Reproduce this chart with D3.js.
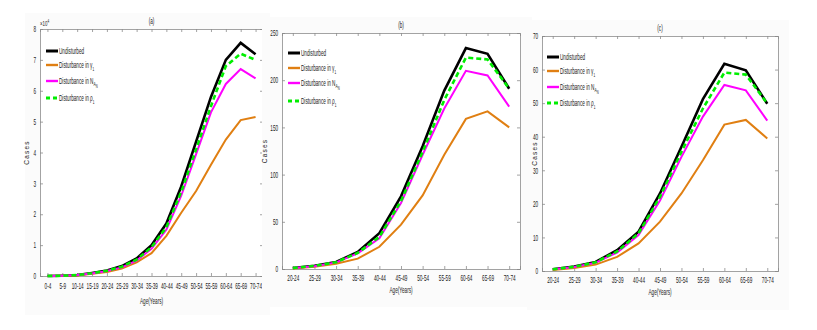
<!DOCTYPE html>
<html>
<head>
<meta charset="utf-8">
<script src="https://cdnjs.cloudflare.com/ajax/libs/d3/7.8.5/d3.min.js"></script>
<style>
  body { margin: 0; background: #fff; }
  svg text { font-family: "Liberation Sans", Arial, sans-serif; fill: #222; }
</style>
</head>
<body>
<div id="chart"></div>
<script>
// age groups
var agesA = ["0-4","5-9","10-14","15-19","20-24","25-29","30-34","35-39","40-44","45-49","50-54","55-59","60-64","65-69","70-74"];
var agesBC = ["20-24","25-29","30-34","35-39","40-44","45-49","50-54","55-59","60-64","65-69","70-74"];

// panel (a), values in units of 10^4
var aUndisturbed = [0, 0.01, 0.03, 0.1, 0.18, 0.32, 0.57, 1.0, 1.7, 2.9, 4.35, 5.8, 7.0, 7.55, 7.18];
var aGamma       = [0, 0.01, 0.02, 0.07, 0.13, 0.24, 0.44, 0.74, 1.3, 2.05, 2.75, 3.6, 4.42, 5.05, 5.15];
var aNAN         = [0, 0.01, 0.03, 0.08, 0.16, 0.28, 0.5, 0.88, 1.5, 2.6, 3.95, 5.3, 6.22, 6.7, 6.4];
var aRho         = [0, 0.01, 0.03, 0.09, 0.17, 0.3, 0.53, 0.93, 1.58, 2.72, 4.1, 5.5, 6.8, 7.2, 7.0];

// panel (b)
var bUndisturbed = [1, 3.5, 7.5, 18, 38, 77, 130, 189, 234, 228, 191];
var bGamma       = [0.5, 2.5, 5.5, 11, 23.5, 47, 78, 121, 159, 167, 150];
var bNAN         = [1, 3, 7, 16.5, 32.5, 70, 121, 170, 210, 205, 172];
var bRho         = [1, 3.2, 7.2, 17, 34, 72, 124, 179, 224, 222, 191];

// panel (c)
var cUndisturbed = [0.5, 1.3, 2.7, 6.2, 11.7, 23.1, 37, 51.2, 61.7, 59.8, 49.8];
var cGamma       = [0.3, 0.9, 1.9, 4.2, 8.2, 14.7, 23.1, 33, 43.6, 45, 39.5];
var cNAN         = [0.5, 1.2, 2.5, 5.5, 10.7, 21, 34, 46, 55.4, 53.8, 44.8];
var cRho         = [0.5, 1.25, 2.6, 5.8, 11.2, 22.1, 35.5, 48.4, 59.1, 58.5, 49.9];

var yTicksA = [0,1,2,3,4,5,6,7,8];
var yTicksB = [0,50,100,150,200,250];
var yTicksC = [0,10,20,30,40,50,60,70];

var seriesStyle = [
  {name: "Undisturbed", color: "#000000", w: 2.6, dash: null},
  {name: "gamma", color: "#e07f12", w: 2, dash: null},
  {name: "nan", color: "#ff00ff", w: 2, dash: null},
  {name: "rho", color: "#00ee00", w: 2.6, dash: "5,3"}
];

var SX = 0.55; // horizontal squeeze, the original uses a narrow font

var svg = d3.select("#chart").append("svg")
    .attr("width", 817).attr("height", 330);

// text placed with a squeezed glyph width
function narrowText(g, x, y, size) {
    return g.append("text")
        .attr("transform", "translate(" + x + "," + y + ") scale(" + SX + ",1)")
        .attr("font-size", size + "px");
}

function drawPanel(p) {
    var g = svg.append("g");

    // faint figure background
    g.append("rect").attr("x", p.bg[0]).attr("y", p.bg[1])
        .attr("width", p.bg[2]).attr("height", p.bg[3])
        .attr("fill", "#fbfbfb");

    var x = d3.scaleLinear().domain([0.5, p.cats.length + 0.5]).range([p.left, p.right]);
    var y = d3.scaleLinear().domain([0, p.ymax]).range([p.bottom, p.top]);

    g.append("rect").attr("x", p.left).attr("y", p.top)
        .attr("width", p.right - p.left).attr("height", p.bottom - p.top)
        .attr("fill", "#fff");

    var idx = d3.range(1, p.cats.length + 1);
    var xAxis = d3.axisBottom(x).tickValues(idx).tickSize(-3).tickPadding(p.xpad)
        .tickFormat(function(d) { return p.cats[d - 1]; });
    var xTop = d3.axisTop(x).tickValues(idx).tickSize(-3).tickFormat("");
    var yAxis = d3.axisLeft(y).tickValues(p.yticks).tickSize(-3).tickPadding(7);
    var yRight = d3.axisRight(y).tickValues(p.yticks).tickSize(-3).tickFormat("");

    var axes = [
        g.append("g").attr("transform", "translate(0," + p.bottom + ")").call(xAxis),
        g.append("g").attr("transform", "translate(0," + p.top + ")").call(xTop),
        g.append("g").attr("transform", "translate(" + p.left + ",0)").call(yAxis),
        g.append("g").attr("transform", "translate(" + p.right + ",0)").call(yRight)
    ];
    axes.forEach(function(a) {
        a.select(".domain").attr("stroke", "#8c8c8c").attr("stroke-width", 0.8);
        a.selectAll(".tick line").attr("stroke", "#8c8c8c").attr("stroke-width", 0.8);
        a.selectAll("text").attr("font-size", "8.5px").attr("fill", "#333")
            .attr("transform", "scale(" + SX + ",1)")
            .style("font-family", "'Liberation Sans', sans-serif");
    });

    var line = d3.line()
        .x(function(d, i) { return x(i + 1); })
        .y(function(d) { return y(d); });

    p.series.forEach(function(s, k) {
        var st = seriesStyle[k];
        g.append("path").datum(s)
            .attr("fill", "none")
            .attr("stroke", st.color)
            .attr("stroke-width", st.w)
            .attr("stroke-linejoin", "miter")
            .attr("stroke-dasharray", st.dash)
            .attr("d", line);
    });

    // title
    narrowText(g, (p.left + p.right) / 2, p.top - 5, 8.5)
        .attr("text-anchor", "middle").text(p.title);

    // axis labels
    narrowText(g, (p.left + p.right) / 2, p.xlabY, 8.5)
        .attr("text-anchor", "middle").text("Age(Years)");
    g.append("text")
        .attr("transform", "translate(" + p.ylabX + "," + ((p.top + p.bottom) / 2) + ") rotate(-90)")
        .attr("text-anchor", "middle").attr("font-size", "6.5px")
        .attr("letter-spacing", "1.2px")
        .attr("fill", "#333")
        .text("Cases");

    if (p.exponent) {
        var ex = narrowText(g, p.left, p.top - 3, 8).attr("fill", "#444");
        ex.append("tspan").text("\u00d710");
        ex.append("tspan").attr("font-size", "5.5px").attr("dy", -3).text("4");
    }

    // legend
    seriesStyle.forEach(function(st, k) {
        var yy = p.legY[k];
        g.append("line").attr("x1", p.legX).attr("x2", p.legX + 12)
            .attr("y1", yy).attr("y2", yy)
            .attr("stroke", st.color).attr("stroke-width", st.w + 0.4)
            .attr("stroke-dasharray", st.dash ? "4,3" : null);
        var t = narrowText(g, p.legX + 13, yy + 3, 8.5);
        if (k === 0) {
            t.text("Undisturbed");
        } else if (k === 1) {
            t.append("tspan").text("Disturbance in \u03b3");
            t.append("tspan").attr("font-size", "5.5px").attr("dy", 2.5).text("1");
        } else if (k === 2) {
            t.append("tspan").text("Disturbance in N");
            t.append("tspan").attr("font-size", "6px").attr("dy", 2).text("A");
            t.append("tspan").attr("font-size", "5px").attr("dy", 1.5).text("N");
        } else {
            t.append("tspan").text("Disturbance in \u03c1");
            t.append("tspan").attr("font-size", "5.5px").attr("dy", 2.5).text("1");
        }
    });
}

drawPanel({
    title: "(a)", cats: agesA, ymax: 8, yticks: yTicksA,
    series: [aUndisturbed, aGamma, aNAN, aRho],
    left: 40, right: 263, top: 29, bottom: 276,
    bg: [25, 13, 245, 302], xpad: 7, xlabY: 304, ylabX: 29, exponent: true,
    legX: 46, legY: [51, 65, 81, 98]
});
drawPanel({
    title: "(b)", cats: agesBC, ymax: 250, yticks: yTicksB,
    series: [bUndisturbed, bGamma, bNAN, bRho],
    left: 282, right: 520, top: 33, bottom: 269,
    bg: [262, 17, 270, 290], xpad: 6, xlabY: 293, ylabX: 267, exponent: false,
    legX: 288, legY: [53, 68, 83, 101]
});
drawPanel({
    title: "(c)", cats: agesBC, ymax: 70, yticks: yTicksC,
    series: [cUndisturbed, cGamma, cNAN, cRho],
    left: 542, right: 778, top: 36, bottom: 271,
    bg: [527, 20, 262, 290], xpad: 6, xlabY: 295, ylabX: 537, exponent: false,
    legX: 547, legY: [57, 71, 87, 103]
});
</script>
</body>
</html>
